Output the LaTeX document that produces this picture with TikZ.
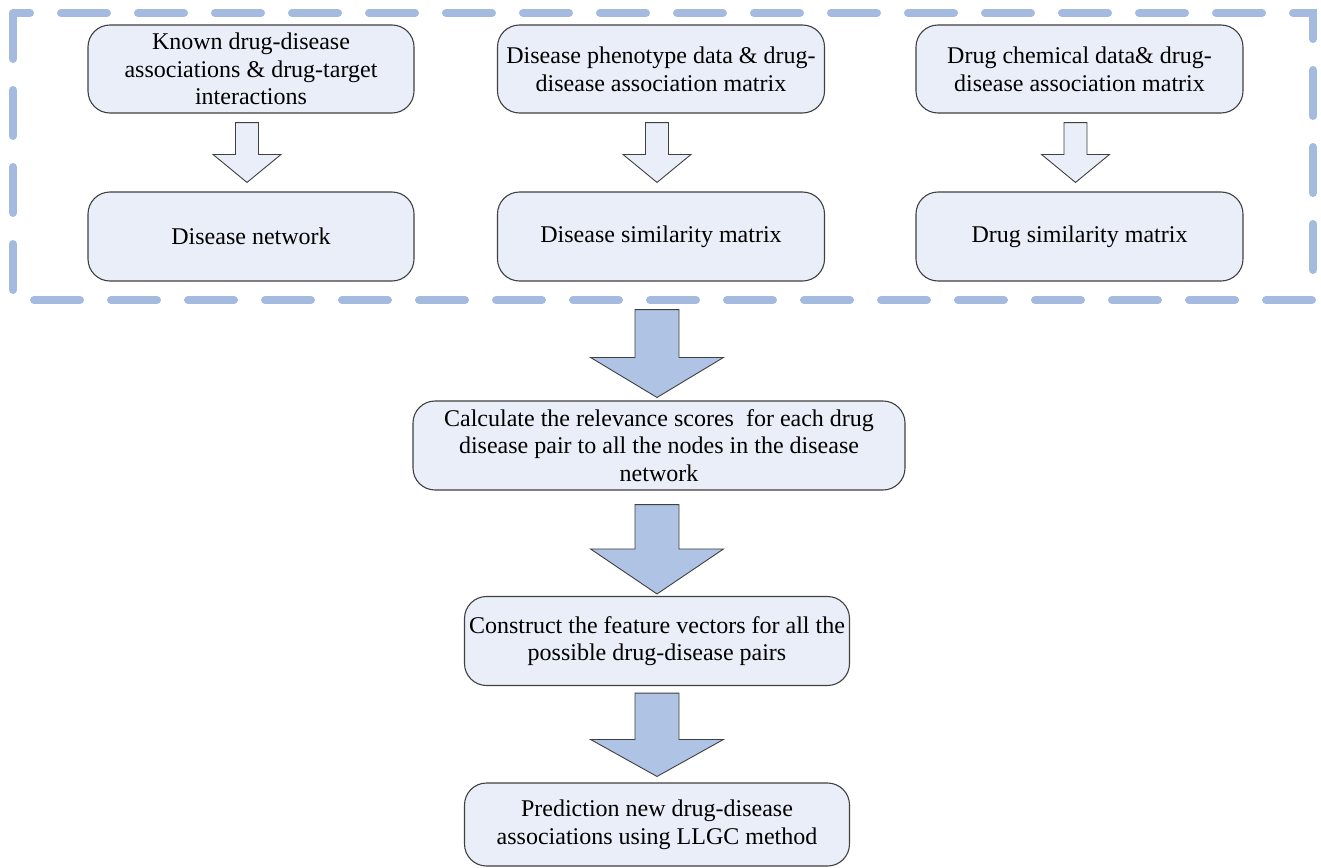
\documentclass[tikz,border=0pt]{standalone}
\usepackage{fontspec}
\setmainfont{Liberation Serif}
\usetikzlibrary{calc}
\definecolor{dashblue}{RGB}{164,186,223}
\definecolor{boxfill}{RGB}{234,238,248}
\definecolor{arrowfill}{RGB}{175,195,228}
\definecolor{edgegray}{RGB}{64,64,64}
\tikzset{
  flowbox/.style={draw=edgegray, line width=1.1pt, fill=boxfill, rounded corners=22pt,
    align=center, font=\fontsize{24}{27.6}\selectfont, inner sep=0pt},
  smallarrow/.style={draw=edgegray, line width=0.9pt, fill=boxfill},
  bigarrow/.style={draw=edgegray, line width=0.9pt, fill=arrowfill},
  groupframe/.style={draw=dashblue, line width=8pt, line cap=round, dash pattern=on 46pt off 31pt}
}
% #1 style, #2 from node, #3 to node, #4 top gap, #5 bottom gap,
% #6 shaft half width, #7 head half width, #8 head length, #9 x offset
\newcommand{\blockarrow}[9]{%
  \draw[#1] let \p1=(#2.south), \p2=(#3.north), \n1={\x2+#9pt} in
  (\n1-#6pt,\y1-#4pt) -- (\n1+#6pt,\y1-#4pt) -- (\n1+#6pt,\y2+#5pt+#8pt) --
  (\n1+#7pt,\y2+#5pt+#8pt) -- (\n1,\y2+#5pt) -- (\n1-#7pt,\y2+#5pt+#8pt) --
  (\n1-#6pt,\y2+#5pt+#8pt) -- cycle;}
\begin{document}
\begin{tikzpicture}[x=1pt,y=-1pt]
\useasboundingbox (0,0) rectangle (1321,867);
\draw[groupframe] (13,13) rectangle (1313,300);

\node[flowbox, minimum width=326pt, minimum height=88pt] (b1) at (251,69)
  {Known drug-disease\\associations \& drug-target\\interactions};
\node[flowbox, minimum width=327pt, minimum height=88pt] (b2) at (661,69)
  {Disease phenotype data \& drug-\\disease association matrix};
\node[flowbox, minimum width=327pt, minimum height=88pt] (b3) at (1079.5,69)
  {Drug chemical data\& drug-\\disease association matrix};
\node[flowbox, minimum width=326pt, minimum height=89pt] (b4) at (251,236.5)
  {Disease network};
\node[flowbox, minimum width=327pt, minimum height=89pt] (b5) at (661,236.5)
  {Disease similarity matrix};
\node[flowbox, minimum width=327pt, minimum height=89pt] (b6) at (1079.5,236.5)
  {Drug similarity matrix};
\node[flowbox, minimum width=492pt, minimum height=89pt] (c1) at (659,445.5)
  {Calculate the relevance scores\hspace{0.25em} for each drug\\disease pair to all the nodes in the disease\\network};
\node[flowbox, minimum width=385pt, minimum height=89pt] (c2) at (657,641)
  {Construct the feature vectors for all the\\possible drug-disease pairs};
\node[flowbox, minimum width=385pt, minimum height=83pt] (c3) at (657,824.5)
  {Prediction new drug-disease\\associations using LLGC method};

\blockarrow{smallarrow}{b1}{b4}{9}{9}{11.5}{34}{28}{-4}
\blockarrow{smallarrow}{b2}{b5}{9}{9}{11.5}{34}{28}{-4}
\blockarrow{smallarrow}{b3}{b6}{9}{9}{11.5}{34}{28}{-4}
\blockarrow{bigarrow}{b5}{c1}{28}{3}{22}{66.5}{40}{-2}
\blockarrow{bigarrow}{c1}{c2}{14}{2}{22}{66.5}{45}{0}
\blockarrow{bigarrow}{c2}{c3}{7}{6}{22}{66.5}{37}{0}
\end{tikzpicture}
\end{document}
